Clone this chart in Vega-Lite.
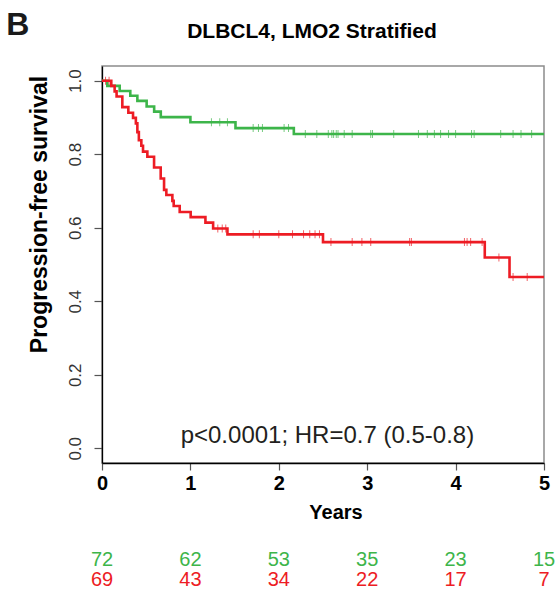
{
  "$schema": "https://vega.github.io/schema/vega-lite/v6.json",
  "padding": {"left": 6, "top": 9, "right": 0, "bottom": 10},
  "config": {
    "font": "Liberation Sans",
    "view": {"stroke": null},
    "axis": {"grid": false, "labelFlush": false, "labelOverlap": false}
  },
  "title": {
    "text": "B", "anchor": "start", "frame": "bounds", "fontSize": 32, "fontWeight": "bold",
    "color": "#1a1a1a", "baseline": "alphabetic", "offset": -47, "dx": -21
  },
  "datasets": {
    "steps": [
      {"group": "green", "t": 0, "s": 1.0},
      {"group": "green", "t": 0.06, "s": 0.986},
      {"group": "green", "t": 0.2, "s": 0.972},
      {"group": "green", "t": 0.32, "s": 0.959},
      {"group": "green", "t": 0.4, "s": 0.945},
      {"group": "green", "t": 0.505, "s": 0.93},
      {"group": "green", "t": 0.59, "s": 0.916},
      {"group": "green", "t": 0.665, "s": 0.901},
      {"group": "green", "t": 1.0, "s": 0.887},
      {"group": "green", "t": 1.51, "s": 0.871},
      {"group": "green", "t": 2.17, "s": 0.855},
      {"group": "green", "t": 5, "s": 0.855},
      {"group": "red", "t": 0, "s": 1.0},
      {"group": "red", "t": 0.105, "s": 0.986},
      {"group": "red", "t": 0.143, "s": 0.971},
      {"group": "red", "t": 0.165, "s": 0.957},
      {"group": "red", "t": 0.23, "s": 0.928},
      {"group": "red", "t": 0.298, "s": 0.913},
      {"group": "red", "t": 0.351, "s": 0.899},
      {"group": "red", "t": 0.383, "s": 0.884},
      {"group": "red", "t": 0.4, "s": 0.86},
      {"group": "red", "t": 0.417, "s": 0.838},
      {"group": "red", "t": 0.445, "s": 0.823},
      {"group": "red", "t": 0.464, "s": 0.807},
      {"group": "red", "t": 0.513, "s": 0.793},
      {"group": "red", "t": 0.589, "s": 0.764},
      {"group": "red", "t": 0.664, "s": 0.734},
      {"group": "red", "t": 0.702, "s": 0.703},
      {"group": "red", "t": 0.728, "s": 0.689},
      {"group": "red", "t": 0.796, "s": 0.673},
      {"group": "red", "t": 0.811, "s": 0.659},
      {"group": "red", "t": 0.879, "s": 0.643},
      {"group": "red", "t": 1.003, "s": 0.629},
      {"group": "red", "t": 1.17, "s": 0.614},
      {"group": "red", "t": 1.257, "s": 0.598},
      {"group": "red", "t": 1.419, "s": 0.582},
      {"group": "red", "t": 2.5, "s": 0.561},
      {"group": "red", "t": 4.33, "s": 0.519},
      {"group": "red", "t": 4.61, "s": 0.466},
      {"group": "red", "t": 5, "s": 0.466}
    ],
    "censor": [
      {"group": "green", "t": 1.238, "s": 0.887},
      {"group": "green", "t": 1.332, "s": 0.887},
      {"group": "green", "t": 1.419, "s": 0.887},
      {"group": "green", "t": 1.71, "s": 0.871},
      {"group": "green", "t": 1.77, "s": 0.871},
      {"group": "green", "t": 1.815, "s": 0.871},
      {"group": "green", "t": 2.06, "s": 0.871},
      {"group": "green", "t": 2.11, "s": 0.871},
      {"group": "green", "t": 2.3, "s": 0.855},
      {"group": "green", "t": 2.43, "s": 0.855},
      {"group": "green", "t": 2.56, "s": 0.855},
      {"group": "green", "t": 2.6, "s": 0.855},
      {"group": "green", "t": 2.62, "s": 0.855},
      {"group": "green", "t": 2.65, "s": 0.855},
      {"group": "green", "t": 2.67, "s": 0.855},
      {"group": "green", "t": 2.74, "s": 0.855},
      {"group": "green", "t": 2.83, "s": 0.855},
      {"group": "green", "t": 3.04, "s": 0.855},
      {"group": "green", "t": 3.06, "s": 0.855},
      {"group": "green", "t": 3.3, "s": 0.855},
      {"group": "green", "t": 3.58, "s": 0.855},
      {"group": "green", "t": 3.68, "s": 0.855},
      {"group": "green", "t": 3.76, "s": 0.855},
      {"group": "green", "t": 3.83, "s": 0.855},
      {"group": "green", "t": 3.92, "s": 0.855},
      {"group": "green", "t": 4.0, "s": 0.855},
      {"group": "green", "t": 4.18, "s": 0.855},
      {"group": "green", "t": 4.21, "s": 0.855},
      {"group": "green", "t": 4.51, "s": 0.855},
      {"group": "green", "t": 4.65, "s": 0.855},
      {"group": "green", "t": 4.74, "s": 0.855},
      {"group": "green", "t": 4.86, "s": 0.855},
      {"group": "red", "t": 0.04, "s": 1.0},
      {"group": "red", "t": 0.08, "s": 1.0},
      {"group": "red", "t": 1.31, "s": 0.598},
      {"group": "red", "t": 1.36, "s": 0.598},
      {"group": "red", "t": 1.4, "s": 0.598},
      {"group": "red", "t": 1.71, "s": 0.582},
      {"group": "red", "t": 1.78, "s": 0.582},
      {"group": "red", "t": 2.0, "s": 0.582},
      {"group": "red", "t": 2.155, "s": 0.582},
      {"group": "red", "t": 2.28, "s": 0.582},
      {"group": "red", "t": 2.35, "s": 0.582},
      {"group": "red", "t": 2.41, "s": 0.582},
      {"group": "red", "t": 2.46, "s": 0.582},
      {"group": "red", "t": 2.59, "s": 0.561},
      {"group": "red", "t": 2.83, "s": 0.561},
      {"group": "red", "t": 2.94, "s": 0.561},
      {"group": "red", "t": 3.04, "s": 0.561},
      {"group": "red", "t": 3.48, "s": 0.561},
      {"group": "red", "t": 3.5, "s": 0.561},
      {"group": "red", "t": 4.1, "s": 0.561},
      {"group": "red", "t": 4.13, "s": 0.561},
      {"group": "red", "t": 4.17, "s": 0.561},
      {"group": "red", "t": 4.3, "s": 0.561},
      {"group": "red", "t": 4.49, "s": 0.519},
      {"group": "red", "t": 4.65, "s": 0.466},
      {"group": "red", "t": 4.81, "s": 0.466}
    ],
    "risk": [
      {"group": "green", "t": 0, "n": 72},
      {"group": "green", "t": 1, "n": 62},
      {"group": "green", "t": 2, "n": 53},
      {"group": "green", "t": 3, "n": 35},
      {"group": "green", "t": 4, "n": 23},
      {"group": "green", "t": 5, "n": 15},
      {"group": "red", "t": 0, "n": 69},
      {"group": "red", "t": 1, "n": 43},
      {"group": "red", "t": 2, "n": 34},
      {"group": "red", "t": 3, "n": 22},
      {"group": "red", "t": 4, "n": 17},
      {"group": "red", "t": 5, "n": 7}
    ],
    "note": [
      {"label": "p<0.0001; HR=0.7 (0.5-0.8)", "t": 2.55, "s": 0.014}
    ]
  },
  "spacing": 27,
  "vconcat": [
    {
      "width": 442,
      "height": 397,
      "view": {"stroke": "#8c8c8c", "strokeWidth": 1.5},
      "title": {
        "text": "DLBCL4, LMO2 Stratified", "fontSize": 21, "fontWeight": "bold", "color": "#000",
        "anchor": "middle", "frame": "group", "dx": -11, "baseline": "alphabetic", "offset": 7
      },
      "layer": [
        {
          "data": {"name": "steps"},
          "mark": {"type": "line", "interpolate": "step-after", "strokeWidth": 2.6},
          "encoding": {
            "x": {
              "field": "t", "type": "quantitative",
              "scale": {"domain": [0, 5], "nice": false, "zero": false},
              "axis": {
                "title": "Years", "titleFontSize": 20, "titleFontWeight": "bold", "titleColor": "#000",
                "titleX": 233.5, "titlePadding": 9,
                "values": [0, 1, 2, 3, 4, 5], "format": "d",
                "labelFontSize": 20, "labelFontWeight": "bold", "labelColor": "#000", "labelPadding": 3,
                "tickSize": 7, "tickColor": "#555", "tickWidth": 1.2,
                "domainColor": "#000", "domainWidth": 1.3
              }
            },
            "y": {
              "field": "s", "type": "quantitative",
              "scale": {"domain": [-0.04, 1.04], "nice": false, "zero": false},
              "axis": {
                "title": "Progression-free survival", "titleFontSize": 23, "titleFontWeight": "bold",
                "titleColor": "#000", "titleBaseline": "alphabetic", "titlePadding": 20, "titleY": 148,
                "values": [0, 0.2, 0.4, 0.6, 0.8, 1.0], "format": ".1f",
                "labelAngle": 270, "labelAlign": "center", "labelBaseline": "alphabetic",
                "labelFontSize": 17, "labelColor": "#333", "labelPadding": 14,
                "tickSize": 8, "tickColor": "#555", "tickWidth": 1.2,
                "domainColor": "#000", "domainWidth": 1.3
              }
            },
            "color": {
              "field": "group", "type": "nominal",
              "scale": {"domain": ["green", "red"], "range": ["#3DB54A", "#ED1C24"]},
              "legend": null
            }
          }
        },
        {
          "data": {"name": "censor"},
          "mark": {"type": "tick", "orient": "vertical", "size": 8, "thickness": 1},
          "encoding": {
            "x": {"field": "t", "type": "quantitative"},
            "y": {"field": "s", "type": "quantitative"},
            "color": {"field": "group", "type": "nominal", "legend": null}
          }
        },
        {
          "data": {"name": "note"},
          "mark": {"type": "text", "fontSize": 24, "align": "center", "baseline": "alphabetic", "color": "#231f20"},
          "encoding": {
            "x": {"field": "t", "type": "quantitative"},
            "y": {"field": "s", "type": "quantitative"},
            "text": {"field": "label"}
          }
        }
      ]
    },
    {
      "width": 442,
      "height": 20,
      "data": {"name": "risk"},
      "mark": {"type": "text", "fontSize": 20, "align": "center", "baseline": "alphabetic"},
      "encoding": {
        "x": {"field": "t", "type": "quantitative", "scale": {"domain": [0, 5], "nice": false, "zero": false}, "axis": null},
        "y": {"field": "group", "type": "nominal", "scale": {"type": "point", "domain": ["green", "red"], "padding": 0}, "axis": null},
        "text": {"field": "n", "type": "quantitative"},
        "color": {
          "field": "group", "type": "nominal",
          "scale": {"domain": ["green", "red"], "range": ["#3DB54A", "#ED1C24"]},
          "legend": null
        }
      }
    }
  ]
}
